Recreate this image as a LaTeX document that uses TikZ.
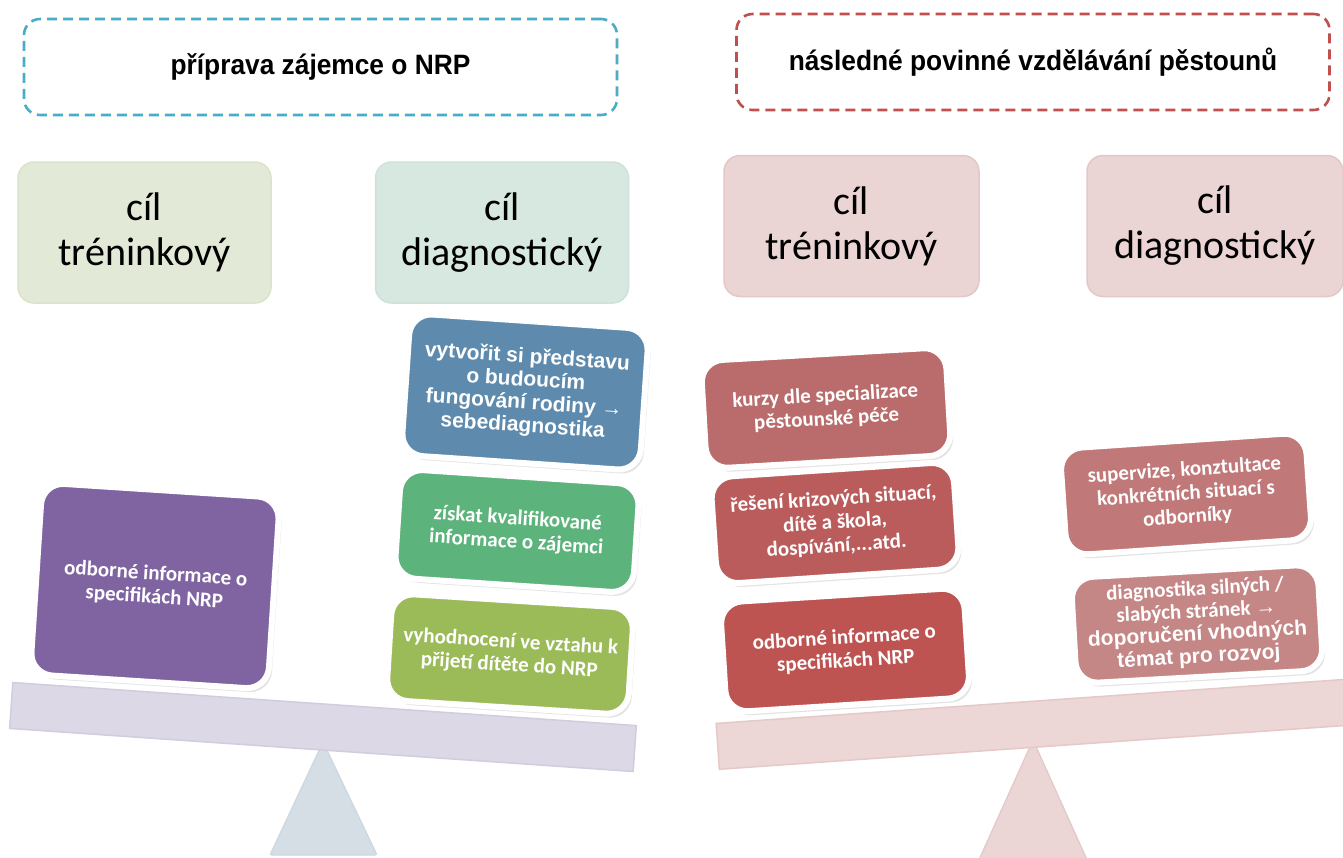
\documentclass[tikz,border=0pt]{standalone}
\usepackage{fontspec}
\setmainfont{Carlito}
\newfontfamily\titlefont[FakeStretch=0.94]{Liberation Sans}
\newfontfamily\arialfont{Liberation Sans}
\usetikzlibrary{shadows}
\definecolor{cTeal}{HTML}{4BACC6}
\definecolor{cRed}{HTML}{C0504D}
\definecolor{cGoalG}{HTML}{E2E9D6}
\definecolor{cGoalGd}{HTML}{DAE3CC}
\definecolor{cGoalT}{HTML}{D6E8E0}
\definecolor{cGoalTd}{HTML}{CDE2D8}
\definecolor{cGoalP}{HTML}{EBD4D4}
\definecolor{cGoalPd}{HTML}{E4C7C7}
\definecolor{cPurple}{HTML}{8064A2}
\definecolor{cBlue}{HTML}{5E8BAD}
\definecolor{cGreen}{HTML}{5CB37B}
\definecolor{cOlive}{HTML}{9BBB59}
\definecolor{cRa}{HTML}{BA6B6B}
\definecolor{cRb}{HTML}{BB5C5C}
\definecolor{cRc}{HTML}{BD5452}
\definecolor{cRd}{HTML}{C07878}
\definecolor{cRe}{HTML}{C58686}
\definecolor{cBeamL}{HTML}{DCD8E5}
\definecolor{cBeamLd}{HTML}{D2CCDF}
\definecolor{cTriL}{HTML}{D5DEE5}
\definecolor{cTriLd}{HTML}{CCD7DF}
\definecolor{cBeamR}{HTML}{EDD6D6}
\definecolor{cBeamRd}{HTML}{E5C9C9}
\definecolor{cTriR}{HTML}{EBD5D5}
\definecolor{cTriRd}{HTML}{E3C8C8}
\tikzset{
  titlebox/.style={draw, line width=2.6pt, dash pattern=on 10pt off 6pt,
    rounded corners=16pt, minimum width=593pt, minimum height=96pt,
    font=\titlefont\bfseries\fontsize{28}{32}\selectfont},
  goalbox/.style={rounded corners=16pt, line width=1.5pt, minimum width=253pt,
    minimum height=141pt, align=center, text=black,
    font=\fontsize{40}{45}\selectfont},
  itembox/.style={rounded corners=22pt, draw=white, line width=6pt, align=center,
    text=white, inner sep=4pt, font=\bfseries\fontsize{21}{23.5}\selectfont,
    drop shadow={shadow xshift=3pt, shadow yshift=-4pt, opacity=0.22}},
  arialtext/.style={font=\arialfont\bfseries\fontsize{21}{23}\selectfont},
  beambar/.style={rectangle, minimum width=625pt, minimum height=46pt, inner sep=0pt, line width=1.5pt},
}
\begin{document}
\begin{tikzpicture}[x=1pt,y=-1pt]
\path[use as bounding box, fill=white] (0,0) rectangle (1343,857);

% title boxes
\node[titlebox, draw=cTeal] (tL) at (320.5,67) {příprava zájemce o NRP};
\node[titlebox, draw=cRed] (tR) at (1033,62) {následné povinné vzdělávání pěstounů};

% goal boxes
\node[goalbox, fill=cGoalG, draw=cGoalGd] (gL1) at (144.5,232.5) {cíl\\tréninkový};
\node[goalbox, fill=cGoalT, draw=cGoalTd] (gL2) at (502,232.5) {cíl\\diagnostický};
\node[goalbox, fill=cGoalP, draw=cGoalPd, minimum width=255pt] (gR1) at (851.5,226) {cíl\\tréninkový};
\node[goalbox, fill=cGoalP, draw=cGoalPd, minimum width=256pt] (gR2) at (1215,226) {cíl\\diagnostický};

% fulcrums
\path[fill=cTriL, draw=cTriLd, line width=1.2pt, rounded corners=2pt] (323,742) -- (377,855) -- (270,855) -- cycle;
\path[fill=cTriR, draw=cTriRd, line width=1.2pt, rounded corners=2pt] (1033,740) -- (1088,862) -- (978,862) -- cycle;

% beams
\node[beambar, fill=cBeamL, draw=cBeamLd, rotate=-3.95] (beamLeft) at (323,727) {};
\node[beambar, fill=cBeamR, draw=cBeamRd, rotate=4.0, minimum width=640pt] (beamRight) at (1037,724) {};

% left items
\node[itembox, fill=cPurple, minimum width=238pt, minimum height=192pt, rotate=-3.7] (iP) at (155,586)
  {odborné informace o\\specifikách NRP};
\node[itembox, fill=cBlue, minimum width=239pt, minimum height=142pt, rotate=-3.9, arialtext] (iB) at (525,392)
  {vytvořit si představu\\o budoucím\\fungování rodiny →\\sebediagnostika};
\node[itembox, fill=cGreen, minimum width=239pt, minimum height=109pt, rotate=-3.8] (iG) at (517,531)
  {získat kvalifikované\\informace o zájemci};
\node[itembox, fill=cOlive, minimum width=242pt, minimum height=107pt, rotate=-3.6] (iO) at (510,654)
  {vyhodnocení ve vztahu k\\přijetí dítěte do NRP};

% right items
\node[itembox, fill=cRa, minimum width=245pt, minimum height=108pt, rotate=3.3] (iRa) at (826,408)
  {kurzy dle specializace\\pěstounské péče};
\node[itembox, fill=cRb, minimum width=243pt, minimum height=107pt, rotate=3.8] (iRb) at (835,523)
  {řešení krizových situací,\\dítě a škola,\\dospívání,...atd.};
\node[itembox, fill=cRc, minimum width=244pt, minimum height=110pt, rotate=3.6] (iRc) at (845,650)
  {odborné informace o\\specifikách NRP};
\node[itembox, fill=cRd, minimum width=246pt, minimum height=107pt, rotate=3.9] (iRd) at (1186,494)
  {supervize, konztultace\\konkrétních situací s\\odborníky};
\node[itembox, fill=cRe, minimum width=247pt, minimum height=106pt, rotate=3.2, font=\bfseries\fontsize{21}{22.5}\selectfont] (iRe) at (1197,624)
  {diagnostika silných /\\slabých stránek {\arialfont →}\\{\arialfont\bfseries doporučení vhodných}\\{\arialfont\bfseries témat pro rozvoj}};
\end{tikzpicture}
\end{document}
